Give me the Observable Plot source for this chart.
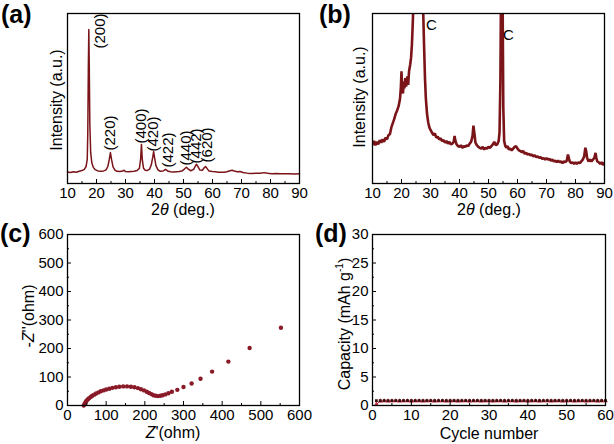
<!DOCTYPE html>
<html><head><meta charset="utf-8">
<script src="https://cdn.jsdelivr.net/npm/d3@7"></script>
<script src="https://cdn.jsdelivr.net/npm/@observablehq/plot@0.6"></script>
<style>
body{margin:0;background:#fff;}
#wrap{position:relative;width:614px;height:444px;overflow:hidden;font-family:"Liberation Sans",Arial,sans-serif;color:#000;}
#wrap svg{position:absolute;}
.t{position:absolute;white-space:nowrap;font-size:16px;line-height:1;}
.r{transform:translate(-50%,-50%) rotate(-90deg);}
.h{transform:translate(-50%,-50%);}
.p{position:absolute;font-weight:bold;font-size:25px;line-height:1;}
</style></head>
<body><div id="wrap"></div>
<script>
// ---- (a) XRD of sample ----
const xrdA_x = [10,11,12,13,14,15,15.8,16.4,16.8,17.0,17.2,17.35,17.5,17.7,18.0,18.4,18.9,19.5,20.5,21.5,22.5,23.3,23.9,24.4,24.8,25.2,25.7,26.3,27,28,29,29.5,30,31,32,33,34,34.8,35.2,35.5,35.8,36.2,36.8,37.5,38.3,38.9,39.4,39.7,40.0,40.5,41.2,42,43,43.8,44.5,45.5,46.5,47.5,48.5,49.5,50.3,51,51.7,52.5,53.5,54.1,54.5,54.9,55.6,56.5,57.2,57.6,58.1,58.8,60,61,62,63,64,65,66,66.8,67.5,68.5,69.5,70.5,72,73.5,75,76.5,77.8,79,80.5,82,83.5,85,86.5,88,90];
const xrdA_y = [6.8,6.5,6.9,6.6,7.2,7.6,8.3,10,14,30,70,90.6,70,35,18,12,9.5,8.2,7.4,7.2,7.4,8,10,14,18.2,14,9.8,8,7.2,7,7.3,7.8,7,6.9,7.1,7.2,7.6,9,14,23,14,9,7.8,7.6,8.4,11,15.5,18.8,15.5,10.5,8,7.2,7.4,8.3,7.4,6.9,6.8,6.9,7,7.4,8.5,9.6,8.4,7.5,8.3,10.3,11.3,10.2,8,7.8,9.4,10,8.9,7.3,7,6.9,6.6,6.6,6.6,6.9,7.5,7.8,7.3,6.9,7.1,6.5,6.1,5.9,6.1,6,6.4,6,5.8,5.9,5.8,5.7,5.8,5.6,5.8];
const peakLabels = ["(200)","(220)","(400)","(420)","(422)","(440)","(442)","(620)"];
const peakLabelX = [21.4,24.8,35.5,39.7,44.6,51,54.5,58];
const peakLabelY = [79.4,19.4,23.5,18.8,9.4,10.6,11.8,12.4];

// ---- (b) XRD with carbon ----
const xrdB_x = [10,10.5,11,11.5,12,12.5,13,13.5,14,14.5,15,15.5,16,16.5,17,17.5,18,18.5,19,19.5,19.8,20.0,20.2,20.5,20.8,21,21.3,21.6,22,22.3,22.6,23,23.3,23.6,23.9,24.2,25,26,27,27.5,27.8,28.1,28.4,28.8,29.2,29.6,30,30.5,31,31.5,32,32.5,33,33.5,34,34.5,35,35.5,36,36.5,37,37.5,38,38.3,38.6,39,39.5,40,40.5,41,41.5,42,42.5,43,43.5,44,44.5,44.8,45.1,45.5,46,46.5,47,47.5,48,48.5,49,49.5,50,50.5,51,51.5,52,52.5,53,53.5,53.8,54.1,54.3,54.6,54.9,55.1,55.4,55.8,56.2,56.6,57,57.5,58,58.5,59,59.5,60,60.5,61,61.5,62,62.5,63,63.5,64,64.5,65,65.5,66,66.5,67,67.5,68,68.5,69,69.5,70,70.5,71,71.5,72,72.5,73,73.5,74,74.5,75,75.5,76,76.5,77,77.4,77.7,78,78.5,79,79.5,80,80.5,81,81.5,82,82.5,83,83.4,83.7,84,84.5,85,85.5,86,86.5,86.9,87.2,87.5,88,88.5,89,89.5,90];
const xrdB_y = [23,25,22.5,24.5,23,25.5,24,26,24.5,27,26,28.5,29,33,35.5,38,41,43,45.5,50,57,66,55,53,60,56,62,57,63,58,66,70,74,82,95,110,150,160,130,100,80,62,50,41,36,33,31.5,30,28.5,29.5,27,27.5,26,26.5,25,25.5,24,25,23.5,24.5,23,23.5,24.5,28,25,23,22,21.5,22.5,21,22,21.5,22.5,22,23.5,24.5,28,34,30,24,22.5,21.5,21,20.5,21.5,20,21,20.5,21.5,21,22,23,24.5,22.5,23,25,30,60,110,150,100,45,25,22,21,22,20,20.5,19.5,20.5,21.5,22,20.5,19.5,19,18.5,19,17.5,18,17,17.5,16.5,17,16,16.5,15.5,16,15,15.5,14.5,15,14,15,14,14.5,13.5,14,13,13.5,12.5,13.5,12.5,13,12,13,12.5,13.5,17,15,13,12,12.5,11.5,12.5,11.5,12.5,12,13,14,16,21,19,15,13,14,13,14,15,18,15,13,12.5,11.5,12.5,11,12];
const carbonLabels = ["C","C"];
const carbonX = [30.3,56.9];
const carbonY = [93,87];

// ---- (c) Nyquist plot ----
const zRe = [42,44,46,48,50,53,56,60,64,69,74,80,86,93,100,108,116,125,134,144,154,164,173,182,190,198,205,211,217,222,228,234,240,246,253,261,270,284,300,321,344,374,416,471,552];
const zIm = [0,5,10,14,18,22,26,30,34,38,42,46,50,53,56,59,62,64,66,67,67,66,64,61,57,53,48,44,40,36,34,33,34,36,39,43,48,55,65,77,94,119,154,202,273];

// ---- (d) cycling ----
const cycles = d3.range(1, 61);
const capCharge = [0.85,0.85,0.86,0.85,0.85,0.86,0.85,0.85,0.86,0.85,0.85,0.86,0.85,0.85,0.86,0.85,0.85,0.86,0.85,0.85,0.86,0.85,0.85,0.86,0.85,0.85,0.86,0.85,0.85,0.86,0.85,0.85,0.86,0.85,0.85,0.86,0.85,0.85,0.86,0.85,0.85,0.86,0.85,0.85,0.86,0.85,0.85,0.86,0.85,0.85,0.86,0.85,0.85,0.86,0.85,0.85,0.86,0.85,0.85,0.86];
const capDischarge = [0.2,0.78,0.8,0.79,0.8,0.8,0.79,0.8,0.8,0.79,0.8,0.8,0.79,0.8,0.8,0.79,0.8,0.8,0.79,0.8,0.8,0.79,0.8,0.8,0.79,0.8,0.8,0.79,0.8,0.8,0.79,0.8,0.8,0.79,0.8,0.8,0.79,0.8,0.8,0.79,0.8,0.8,0.79,0.8,0.8,0.79,0.8,0.8,0.79,0.8,0.8,0.79,0.8,0.8,0.79,0.8,0.8,0.79,0.8,0.8];

const xrdTicks = [10,20,30,40,50,60,70,80,90];
const xrdMinor = [15,25,35,45,55,65,75,85];
const zTicks = [0,100,200,300,400,500,600];
const zMinor = [50,150,250,350,450,550];
const capTicks = [0,5,10,15,20,25,30];
const capMinor = [2.5,7.5,12.5,17.5,22.5,27.5];
const cycTicks = [0,10,20,30,40,50,60];
const cycMinor = [5,15,25,35,45,55];

const RED = "#7a1418";
const font = "'Liberation Sans', Arial, sans-serif";
const style = {fontFamily: font, fontSize: "15px", color: "#000", background: "transparent", overflow: "visible"};

// inward ticks: a positive tick drawn outward, then shifted back inside the frame
function axesX(major, minor) {
  return [
    Plot.axisX({ticks: major, tickSize: 4, dy: -4, fill: "none", label: null, strokeWidth: 1}),
    Plot.axisX({ticks: minor, tickSize: 2, dy: -2, fill: "none", label: null, strokeWidth: 1}),
    Plot.axisX({ticks: major, tickSize: 0, tickPadding: 4, tickFormat: d => String(d), label: null})
  ];
}
function axesY(major, minor) {
  return [
    Plot.axisY({ticks: major, tickSize: 4, dx: 4, fill: "none", label: null, strokeWidth: 1}),
    Plot.axisY({ticks: minor, tickSize: 2, dx: 2, fill: "none", label: null, strokeWidth: 1}),
    Plot.axisY({ticks: major, tickSize: 0, tickPadding: 4, tickFormat: d => String(d), label: null})
  ];
}

const wrap = document.getElementById("wrap");
function place(svg, left, top) { svg.style.left = left + "px"; svg.style.top = top + "px"; wrap.appendChild(svg); }

const A = Plot.plot({
  width: 307, height: 222, marginLeft: 67, marginRight: 8, marginTop: 13, marginBottom: 39, style,
  x: {domain: [10, 90], label: null}, y: {domain: [0, 100], axis: null},
  marks: [
    Plot.line(xrdA_x.map((d, i) => ({x: d, y: xrdA_y[i]})), {x: "x", y: "y", stroke: RED, strokeWidth: 1.5}),
    Plot.text(peakLabels.map((d, i) => ({t: d, x: peakLabelX[i], y: peakLabelY[i]})), {x: "x", y: "y", text: "t", rotate: -90, textAnchor: "start", fontSize: 15, fill: "#000"}),
    Plot.frame({stroke: "#000", strokeWidth: 1.3}),
    ...axesX(xrdTicks, xrdMinor)
  ]
});
place(A, 0, 0);

const B = Plot.plot({
  width: 307, height: 222, marginLeft: 65, marginRight: 10, marginTop: 13, marginBottom: 39, style,
  x: {domain: [10, 90], label: null}, y: {domain: [0, 100], axis: null},
  marks: [
    Plot.line(xrdB_x.map((d, i) => ({x: d, y: xrdB_y[i]})), {x: "x", y: "y", stroke: RED, strokeWidth: 2.6, strokeLinejoin: "miter", clip: true}),
    Plot.text(carbonLabels.map((d, i) => ({t: d, x: carbonX[i], y: carbonY[i]})), {x: "x", y: "y", text: "t", fontSize: 15, fill: "#000"}),
    Plot.frame({stroke: "#000", strokeWidth: 1.3}),
    ...axesX(xrdTicks, xrdMinor)
  ]
});
place(B, 307, 0);

const C = Plot.plot({
  width: 307, height: 222, marginLeft: 67, marginRight: 8, marginTop: 12, marginBottom: 39, style,
  x: {domain: [0, 600], label: null}, y: {domain: [0, 600], label: null},
  marks: [
    Plot.dot(zRe.map((d, i) => ({x: d, y: zIm[i]})), {x: "x", y: "y", r: 2.2, fill: "#8a1a28", stroke: "none"}),
    Plot.frame({stroke: "#000", strokeWidth: 1.3}),
    ...axesX(zTicks, zMinor),
    ...axesY(zTicks, zMinor)
  ]
});
place(C, 0, 222);

const D = Plot.plot({
  width: 307, height: 222, marginLeft: 65, marginRight: 9, marginTop: 12, marginBottom: 39, style,
  x: {domain: [0, 60], label: null}, y: {domain: [0, 30], label: null},
  marks: [
    Plot.line(cycles.map((d, i) => ({x: d, y: capDischarge[i]})), {x: "x", y: "y", stroke: "#c0283a", strokeWidth: 1}),
    Plot.dot(cycles.map((d, i) => ({x: d, y: capDischarge[i]})), {x: "x", y: "y", r: 1.8, symbol: "triangle", fill: "#c0283a"}),
    Plot.dot(cycles.map((d, i) => ({x: d, y: capCharge[i]})), {x: "x", y: "y", r: 1.6, symbol: "square", fill: "#3a1010"}),
    Plot.frame({stroke: "#000", strokeWidth: 1.3}),
    ...axesX(cycTicks, cycMinor),
    ...axesY(capTicks, capMinor)
  ]
});
place(D, 307, 222);

function label(html, x, y, cls) {
  const d = document.createElement("div");
  d.className = "t " + cls;
  d.innerHTML = html;
  d.style.left = x + "px"; d.style.top = y + "px";
  wrap.appendChild(d);
}
function panel(txt, x, y) {
  const d = document.createElement("div");
  d.className = "p"; d.textContent = txt;
  d.style.left = x + "px"; d.style.top = y + "px";
  wrap.appendChild(d);
}
label("2<i>θ</i> (deg.)", 183, 210, "h");
label("2<i>θ</i> (deg.)", 489, 210, "h");
label("Intensity (a.u.)", 57, 100, "r");
label("Intensity (a.u.)", 360, 97, "r");
label("-<i>Z</i>''(ohm)", 29, 316, "r");
label("<i>Z</i>'(ohm)", 173, 433, "h");
label("Capacity (mAh g<sup style='font-size:10px'>-1</sup>)", 344, 324, "r");
label("Cycle number", 489, 434, "h");
panel("(a)", 1, 2);
panel("(b)", 319, 2);
panel("(c)", 0, 221);
panel("(d)", 315, 221);
</script></body></html>
